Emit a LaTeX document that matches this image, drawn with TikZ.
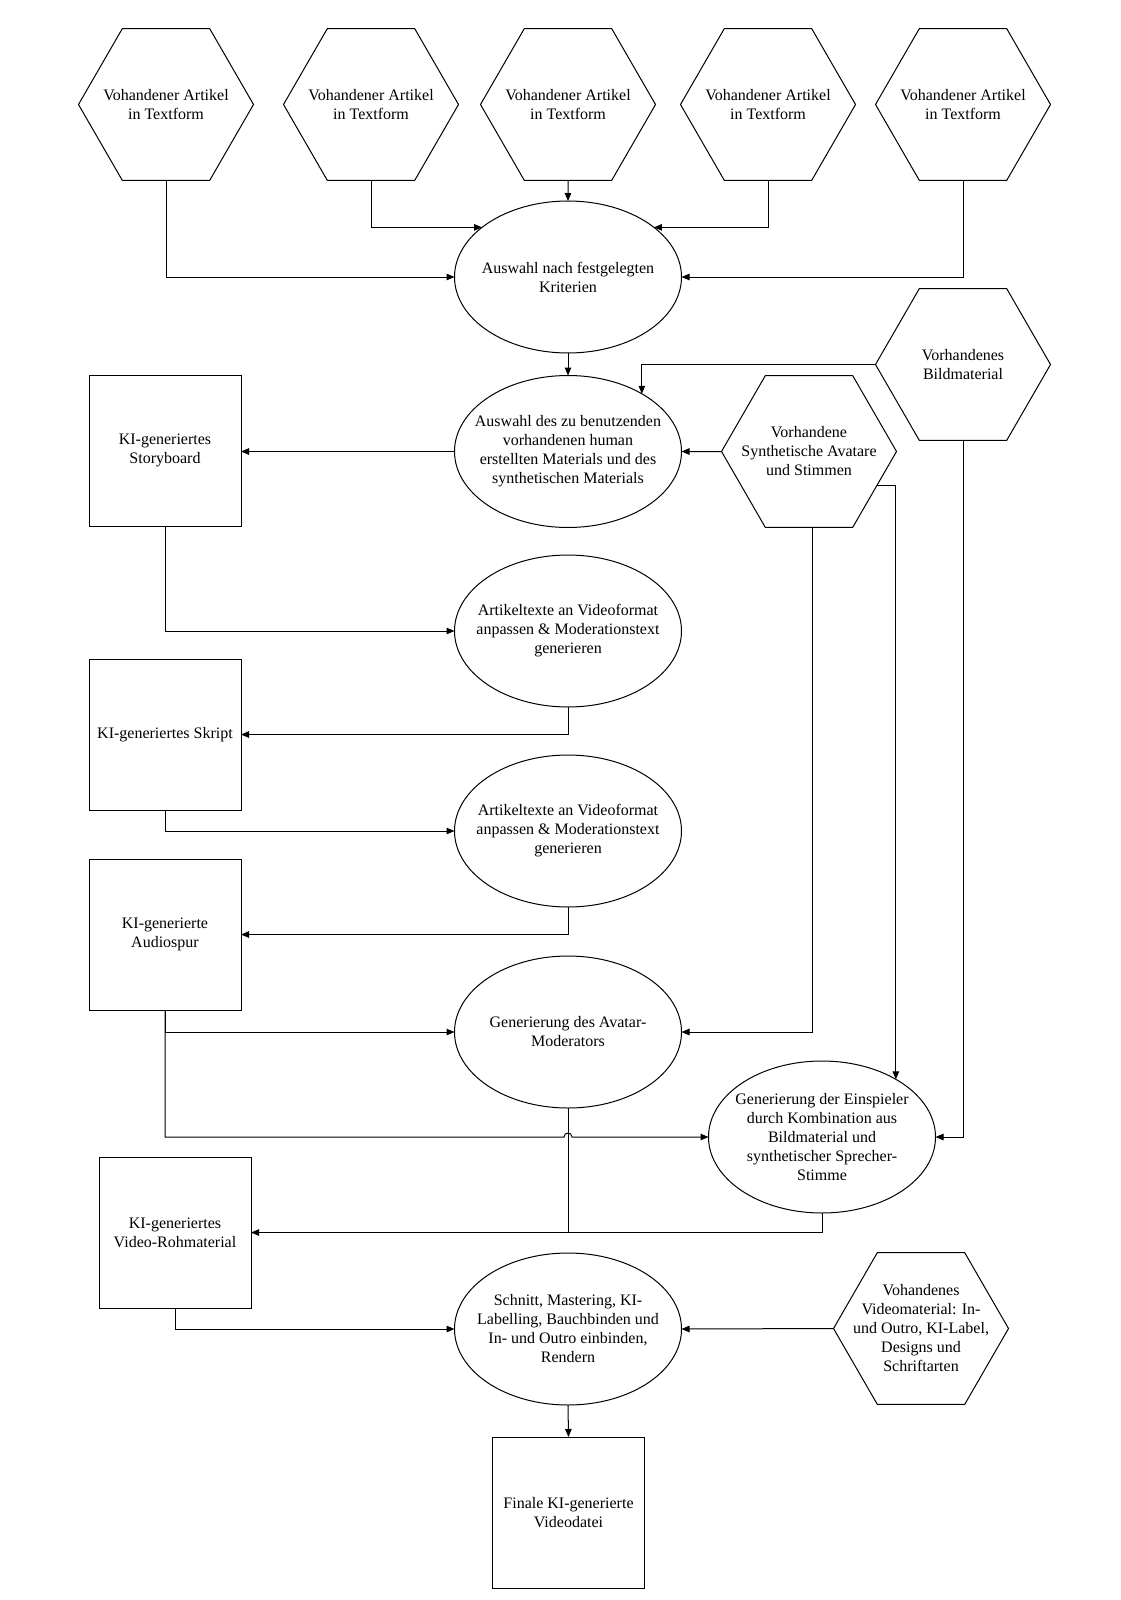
\documentclass[tikz,border=0pt]{standalone}
\usepackage{fontspec}
\setmainfont{Liberation Serif}
\usetikzlibrary{shapes.geometric,arrows.meta,calc}
\begin{document}
\begin{tikzpicture}[x=1pt,y=-1pt,
  every node/.style={font=\fontsize{16}{19}\selectfont, align=center, draw, line width=1pt, outer sep=0pt},
  hexa/.style={regular polygon, regular polygon sides=6, minimum size=175pt, inner sep=-15pt},
  ell/.style={ellipse, minimum width=227pt, minimum height=152pt, inner sep=-30pt},
  box/.style={rectangle, minimum width=152pt, minimum height=151pt, inner sep=2pt},
  arr/.style={-{Triangle[length=8pt,width=6.5pt]}, line width=1pt},
  ln/.style={line width=1pt}]
\useasboundingbox (0,0) rectangle (1120,1600);
\fill[white] (0,0) rectangle (1120,1600);

% top source hexagons
\node[hexa] (H1) at (166,104.5) {Vohandener Artikel\\in Textform};
\node[hexa] (H2) at (371,104.5) {Vohandener Artikel\\in Textform};
\node[hexa] (H3) at (568,104.5) {Vohandener Artikel\\in Textform};
\node[hexa] (H4) at (768,104.5) {Vohandener Artikel\\in Textform};
\node[hexa] (H5) at (963,104.5) {Vohandener Artikel\\in Textform};

% process ellipses
\node[ell] (E1) at (568,277) {Auswahl nach festgelegten\\Kriterien};
\node[ell] (E2) at (568,451.5) {Auswahl des zu benutzenden\\vorhandenen human\\erstellten Materials und des\\synthetischen Materials};
\node[ell] (E3) at (568,631) {Artikeltexte an Videoformat\\anpassen \& Moderationstext\\generieren};
\node[ell] (E4) at (568,831) {Artikeltexte an Videoformat\\anpassen \& Moderationstext\\generieren};
\node[ell] (E5) at (568,1032) {Generierung des Avatar-\\Moderators};
\node[ell] (E6) at (822,1137) {Generierung der Einspieler\\durch Kombination aus\\Bildmaterial und\\synthetischer Sprecher-\\Stimme};
\node[ell] (E7) at (568,1329) {Schnitt, Mastering, KI-\\Labelling, Bauchbinden und\\In- und Outro einbinden,\\Rendern};

% other source hexagons
\node[hexa] (B) at (963,364.5) {Vorhandenes\\Bildmaterial};
\node[hexa] (S) at (809,451.5) {Vorhandene\\Synthetische Avatare\\und Stimmen};
\node[hexa] (VM) at (921,1328.5) {Vohandenes\\Videomaterial: In-\\und Outro, KI-Label,\\Designs und\\Schriftarten};

% result boxes
\node[box] (SB) at (165,450.5) {KI-generiertes\\Storyboard};
\node[box] (SK) at (165,734.5) {KI-generiertes Skript};
\node[box] (AU) at (165,934.5) {KI-generierte\\Audiospur};
\node[box] (V) at (175,1232.5) {KI-generiertes\\Video-Rohmaterial};
\node[box] (F) at (568.5,1512.5) {Finale KI-generierte\\Videodatei};

% connectors
\draw[arr] (H1.south) |- (E1.west);
\draw[arr] (H2.south) |- (E1.150);
\draw[arr] (H3.south) -- (E1.north);
\draw[arr] (H4.south) |- (E1.30);
\draw[arr] (H5.south) |- (E1.east);
\draw[arr] (E1.south) -- (E2.north);
\draw[arr] (B.west) -| (E2.38);
\draw[arr] (S.west) -- (E2.east);
\draw[arr] (E2.west) -- (SB.east |- E2.west);
\draw[arr] (SB.south) |- (E3.west);
\draw[arr] (E3.south) |- (SK.east);
\draw[arr] (SK.south) |- (E4.west);
\draw[arr] (E4.south) |- (AU.east);
\draw[arr] (AU.south) |- (E5.west);
\draw[arr] (S.-87) |- (E5.east);
\draw[arr] (S.-27) -| (E6.38);
\draw[arr] (B.south) |- (E6.east);
\draw[arr] (AU.south) -- (AU.south |- E6.west)
  -- ($(E5.south |- E6.west)+(-4,0)$)
  .. controls +(0,-5.3) and +(0,-5.3) .. ($(E5.south |- E6.west)+(4,0)$)
  -- (E6.west);
\draw[ln] (E5.south) -- (E5.south |- V.east);
\draw[arr] (E6.south) |- (V.east);
\draw[arr] (V.south) |- (E7.west);
\draw[arr] (VM.west) -- (E7.east);
\draw[arr] (E7.south) -- (F.north);
\end{tikzpicture}
\end{document}
